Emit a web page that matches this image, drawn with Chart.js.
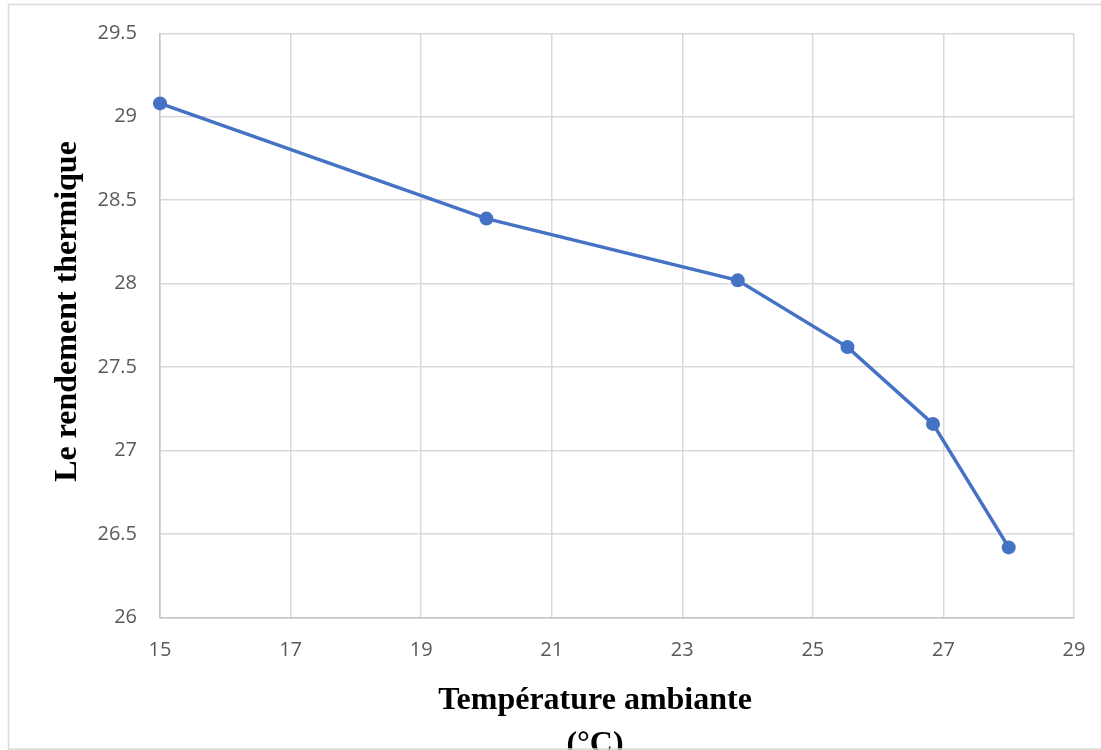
<!DOCTYPE html>
<html>
<head>
<meta charset="utf-8">
<script src="https://cdn.jsdelivr.net/npm/chart.js@4/dist/chart.umd.min.js"></script>
<style>
  html, body { margin: 0; padding: 0; background: #ffffff; overflow: hidden; }
  #wrap { position: relative; width: 1101px; height: 750px; }
</style>
</head>
<body>
<div id="wrap"><canvas id="c" width="1101" height="750"></canvas></div>
<script>
// ---- data ----
const temperatures = [15, 20, 23.85, 25.53, 26.84, 28.0];      // Température ambiante (°C)
const efficiency   = [29.08, 28.39, 28.02, 27.62, 27.16, 26.42]; // Le rendement thermique
const xTickRange = { min: 15, max: 29, step: 2 };
const yTickRange = { min: 26, max: 29.5, step: 0.5 };
const xTitleLines = ['Température ambiante', '(°C)'];
const yTitleText = 'Le rendement thermique';

const points = temperatures.map((t, i) => ({ x: t, y: efficiency[i] }));

const titlesAndFrame = {
  id: 'titlesAndFrame',
  afterDraw(chart) {
    const ctx = chart.ctx;
    ctx.save();
    ctx.fillStyle = '#000000';
    ctx.font = 'bold 32px "Liberation Serif", "Times New Roman", serif';
    ctx.textAlign = 'center';
    ctx.textBaseline = 'alphabetic';
    ctx.fillText(xTitleLines[0], 595, 709);
    ctx.fillText(xTitleLines[1], 595, 753);
    ctx.translate(76, 311.5);
    ctx.rotate(-Math.PI / 2);
    ctx.fillText(yTitleText, 0, 0);
    ctx.restore();
    ctx.save();
    ctx.strokeStyle = '#d9d9d9';
    ctx.lineWidth = 1.5;
    ctx.strokeRect(8.5, 4.5, 1200, 744.5);
    ctx.restore();
  }
};

new Chart(document.getElementById('c'), {
  type: 'scatter',
  data: {
    datasets: [{
      data: points,
      showLine: true,
      borderColor: '#4472C4',
      backgroundColor: '#4472C4',
      borderWidth: 3.5,
      pointRadius: 7,
      pointHoverRadius: 7,
      pointBorderWidth: 0,
      pointBackgroundColor: '#4472C4',
      tension: 0,
      clip: false
    }]
  },
  options: {
    responsive: false,
    animation: false,
    devicePixelRatio: 1,
    layout: { padding: { left: 0, top: 33.3, right: 27, bottom: 0 } },
    plugins: { legend: { display: false }, tooltip: { enabled: false } },
    scales: {
      x: {
        type: 'linear',
        min: xTickRange.min,
        max: xTickRange.max,
        ticks: {
          stepSize: xTickRange.step,
          color: '#595959',
          font: { family: '"Open Sans", sans-serif', size: 20 },
          padding: 21,
          maxRotation: 0,
          callback: (v) => String(v)
        },
        grid: { color: '#d9d9d9', lineWidth: 1.5, drawTicks: false },
        border: { color: '#c4c4c4', width: 1.5 },
        afterFit(scale) {
          scale.height = 132.5;
          scale.paddingLeft = 0; scale.paddingRight = 0;
        }
      },
      y: {
        type: 'linear',
        min: yTickRange.min,
        max: yTickRange.max,
        ticks: {
          stepSize: yTickRange.step,
          color: '#595959',
          font: { family: '"Open Sans", sans-serif', size: 20 },
          padding: 23,
          callback: (v) => String(v)
        },
        grid: { color: '#d9d9d9', lineWidth: 1.5, drawTicks: false },
        border: { color: '#c4c4c4', width: 1.5 },
        afterFit(scale) {
          scale.width = 160;
          scale.paddingTop = 0; scale.paddingBottom = 0;
        }
      }
    }
  },
  plugins: [titlesAndFrame]
});
</script>
</body>
</html>
